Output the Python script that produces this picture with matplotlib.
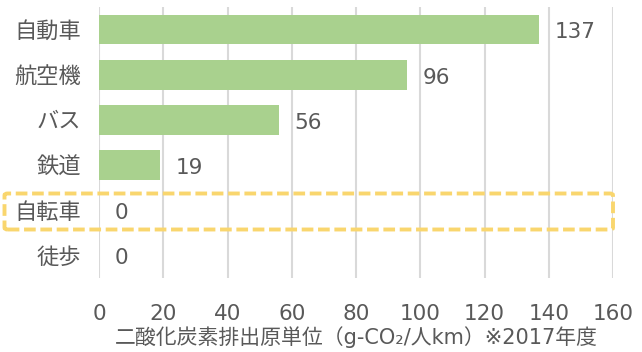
import matplotlib
matplotlib.use("Agg")
import matplotlib.pyplot as plt
from matplotlib.patches import FancyBboxPatch

plt.rcParams['font.family'] = ['DejaVu Sans', 'Noto Sans CJK JP']

categories = ['自動車', '航空機', 'バス', '鉄道', '自転車', '徒歩']
values = [137, 96, 56, 19, 0, 0]
xticks = [0, 20, 40, 60, 80, 100, 120, 140, 160]
xlabel = '二酸化炭素排出原単位（g-CO₂/人km）※2017年度'

text_color = '#595959'
bar_color = '#a9d18e'
grid_color = '#d9d9d9'
fs = 15.5

W, H = 642, 352
fig = plt.figure(figsize=(W / 100, H / 100), dpi=100)
ax = fig.add_axes([99 / W, 1 - 278 / H, 514 / W, 271 / H])

y = list(range(len(categories)))
ax.barh(y, values, height=0.66, color=bar_color, zorder=2)
ax.set_ylim(len(categories) - 0.5, -0.5)
ax.set_xlim(0, 160)
ax.set_yticks(y)
ax.set_yticklabels(categories, fontsize=16, color=text_color)
ax.set_xticks(xticks)
ax.set_xticklabels([str(t) for t in xticks], fontsize=fs, color=text_color)
ax.tick_params(axis='y', length=0, pad=13)
ax.tick_params(axis='x', length=0, pad=19)
ax.grid(axis='x', color=grid_color, linewidth=1.5, zorder=0)
for s in ax.spines.values():
    s.set_visible(False)
ax.set_xlabel(xlabel, fontsize=15, color=text_color, labelpad=1.5)

for yi, v in zip(y, values):
    ax.annotate(str(v), (v, yi), xytext=(11, -2), textcoords='offset points',
                ha='left', va='center', fontsize=fs, color=text_color)

# dashed highlight around the 自転車 row
box = FancyBboxPatch((4.5 / W, 1 - 229.5 / H), 608.5 / W, 36 / H,
                     boxstyle='round,pad=0,rounding_size=0.005',
                     transform=fig.transFigure, fill=False,
                     edgecolor='#f9d66e', linewidth=2.8,
                     linestyle=(0, (3, 1.2)), zorder=5)
fig.patches.append(box)

fig.savefig('out.png', dpi=100)
